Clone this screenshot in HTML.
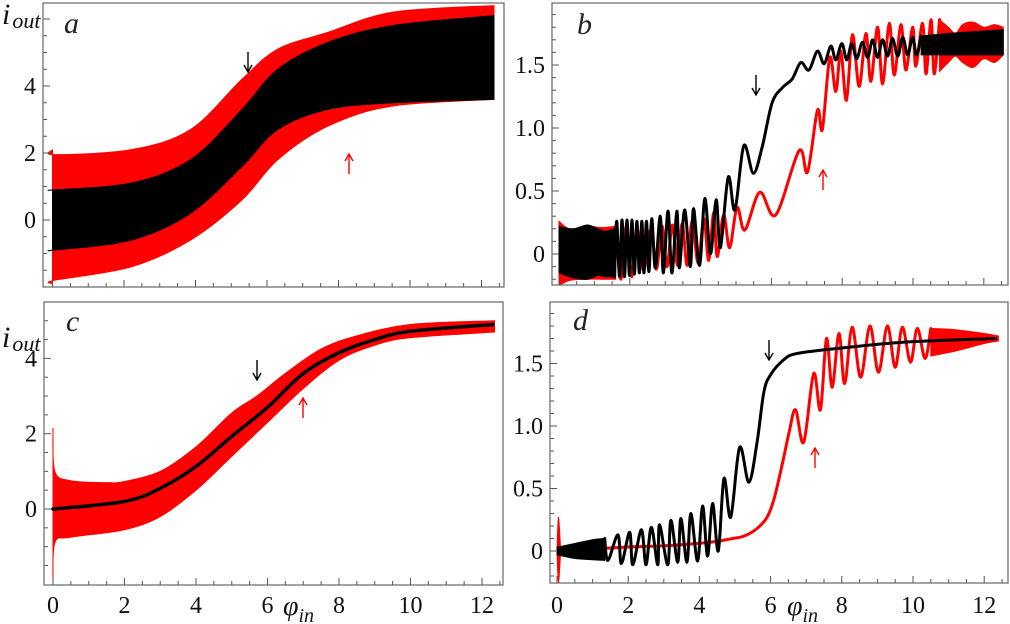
<!DOCTYPE html>
<html><head><meta charset="utf-8">
<style>
html,body{margin:0;padding:0;background:#fff;}
svg{display:block;}
svg text{font-family:"Liberation Serif","Times New Roman",Times,"DejaVu Serif",serif;}
</style></head>
<body>
<svg id="fig" width="1010" height="624" viewBox="0 0 1010 624"></svg>
<script>
// ---------- DATA ----------
const aX = [0, 0.05, 2.2, 3.86, 5.3, 6.3, 7.7, 9.5, 12.35];
const aRedUp = [2.1, 1.95, 2.1, 2.7, 4.2, 5.1, 5.6, 6.2, 6.4];
const aRedLo = [-1.9, -1.8, -1.4, -0.6, 0.6, 1.8, 2.8, 3.4, 3.6];
const aBlkUp = [0.9, 0.9, 1.1, 1.8, 3.3, 4.5, 5.3, 5.8, 6.1];
const aBlkLo = [-0.9, -0.9, -0.6, 0.2, 1.6, 2.7, 3.3, 3.5, 3.6];
const cRedX = [0, 0.05, 0.5, 1.5, 2, 3, 4, 5, 5.7, 6.5, 7.5, 8.5, 10, 12.35];
const cRedUp = [2.15, 1.0, 0.75, 0.7, 0.73, 1.0, 1.65, 2.55, 3.0, 3.6, 4.25, 4.6, 4.9, 5.0];
const cRedLoX = [0, 0.05, 0.5, 2, 3, 4, 5, 6, 7, 8, 9, 10, 12.35];
const cRedLo = [-2.0, -0.9, -0.75, -0.55, -0.2, 0.5, 1.4, 2.3, 3.2, 3.95, 4.35, 4.55, 4.7];
const cBlkX = [0, 2, 3, 4, 5, 6, 7, 8, 9, 10, 12.3];
const cBlk = [0, 0.2, 0.55, 1.13, 1.93, 2.7, 3.6, 4.15, 4.5, 4.72, 4.9];
const bBlkBandX = [0, 0.4, 0.8, 1.1, 1.3, 1.57];
const bBlkBandUp = [0.22, 0.2, 0.23, 0.2, 0.18, 0.2];
const bBlkBandLo = [-0.15, -0.19, -0.2, -0.17, -0.18, -0.18];
const bRedBandX = [0, 0.3, 0.8, 1.2, 1.6];
const bRedBandUp = [0.26, 0.2, 0.22, 0.21, 0.22];
const bRedBandLo = [-0.25, -0.21, -0.2, -0.2, -0.2];
const bBlkX = [1.57,1.63,1.71,1.78,1.85,1.92,1.99,2.06,2.13,2.20,2.27,2.34,2.40,2.47,2.54,2.62,2.72,2.86,2.95,3.08,3.19,3.33,3.40,3.55,3.71,3.80,3.97,4.12,4.28,4.44,4.56,4.78,4.97,5.22,5.49,5.74,6.02,6.31,6.59,6.83,7.06,7.30,7.49,7.68,7.82,7.99,8.13,8.27,8.41,8.57,8.72,8.86,9.0,9.14,9.28,9.42,9.57,9.71,9.85,9.99,10.1,10.23];
const bBlkY = [-0.18,0.26,-0.18,0.27,-0.18,0.27,-0.17,0.27,-0.16,0.26,-0.15,0.26,-0.15,0.26,-0.14,0.28,-0.11,0.30,-0.15,0.34,-0.15,0.34,-0.11,0.35,-0.10,0.36,-0.09,0.44,0.0,0.43,0.05,0.61,0.35,0.86,0.64,0.85,1.20,1.32,1.39,1.52,1.46,1.61,1.51,1.65,1.54,1.67,1.54,1.67,1.55,1.68,1.56,1.70,1.56,1.70,1.57,1.71,1.57,1.72,1.58,1.72,1.58,1.73];
const bBlkEndX = [10.23, 11, 12, 12.55];
const bBlkEndUp = [1.73, 1.75, 1.77, 1.78];
const bBlkEndLo = [1.58, 1.58, 1.58, 1.58];
const bRedX = [1.6,1.75,1.9,2.05,2.2,2.39,2.6,2.75,2.91,3.05,3.20,3.35,3.48,3.62,3.76,3.93,4.09,4.23,4.37,4.47,4.65,4.82,5.03,5.25,5.67,6.12,6.78,7.02,7.30,7.44,7.65,7.82,7.96,8.12,8.29,8.48,8.67,8.81,9.0,9.14,9.33,9.47,9.66,9.80,9.99,10.08,10.27,10.37,10.51,10.6,10.75];
const bRedY = [0.22,-0.2,0.22,-0.18,0.2,-0.13,0.2,-0.12,0.22,-0.10,0.23,-0.09,0.24,-0.09,0.26,-0.07,0.28,-0.05,0.33,-0.02,0.31,0.05,0.37,0.19,0.49,0.31,0.82,0.65,1.14,0.99,1.56,1.29,1.61,1.22,1.74,1.33,1.75,1.37,1.80,1.35,1.83,1.42,1.82,1.46,1.80,1.49,1.83,1.43,1.86,1.43,1.86];
const bRedEndX = [10.75, 11.0, 11.2, 11.4, 11.7, 12.0, 12.3, 12.55];
const bRedEndUp = [1.86, 1.80, 1.75, 1.82, 1.84, 1.80, 1.82, 1.80];
const bRedEndLo = [1.45, 1.52, 1.57, 1.52, 1.48, 1.55, 1.52, 1.58];
const dBlkBandX = [0, 0.5, 1.0, 1.34];
const dBlkBandUp = [0.03, 0.06, 0.09, 0.10];
const dBlkBandLo = [-0.03, -0.06, -0.07, -0.075];
const dBlkX = [1.34,1.43,1.71,1.81,2.04,2.13,2.37,2.50,2.65,2.83,2.88,3.11,3.20,3.39,3.48,3.65,3.76,3.95,4.09,4.23,4.37,4.53,4.69,4.88,5.13,5.39,5.62,5.81,6.0,6.37,6.74,7.86,9.72,12.32];
const dBlkY = [0.10,-0.075,0.13,-0.10,0.15,-0.11,0.17,-0.11,0.19,-0.11,0.21,-0.11,0.245,-0.09,0.26,-0.09,0.30,-0.08,0.36,-0.04,0.38,0.0,0.58,0.27,0.83,0.55,0.87,1.27,1.41,1.53,1.58,1.62,1.67,1.70];
const dSpikeX = [0, 0.04, 0.1];
const dSpikeUp = [0.0, 0.27, 0.02];
const dSpikeLo = [0.0, -0.25, -0.02];
const dRedX = [0.1,0.5,1.0,2.0,3.2,4.3,4.9,5.26,5.62,5.9,6.1,6.34,6.52,6.7,6.93,7.21,7.4,7.57,7.73,7.92,8.08,8.29,8.53,8.79,9.03,9.28,9.5,9.7,9.93,10.12,10.34,10.5];
const dRedY = [0.0,0.01,0.015,0.032,0.045,0.07,0.098,0.12,0.18,0.27,0.42,0.71,0.95,1.13,0.87,1.42,1.13,1.70,1.31,1.74,1.34,1.79,1.39,1.80,1.43,1.80,1.47,1.79,1.51,1.78,1.54,1.78];
const dRedEndX = [10.5, 11.2, 12.0, 12.4];
const dRedEndUp = [1.78, 1.77, 1.74, 1.72];
const dRedEndLo = [1.56, 1.60, 1.66, 1.68];

const xTicks = ['0','2','4','6','8','10','12'];
const yTicksAC = ['0','2','4'];
const yTicksBD = ['0','0.5','1.0','1.5'];

// ---------- RENDER ----------
const NS = 'http://www.w3.org/2000/svg';
const FF = '"Liberation Serif", "Times New Roman", Times, "DejaVu Serif", serif';
const svg = document.getElementById('fig');
function mk(tag, attrs, parent){ const e=document.createElementNS(NS,tag); for(const k in attrs) e.setAttribute(k,attrs[k]); if(tag==='text') e.setAttribute('font-family',FF); (parent||svg).appendChild(e); return e; }

function crPath(pts){
  if(pts.length<2) return '';
  let d='M'+pts[0][0].toFixed(2)+','+pts[0][1].toFixed(2);
  for(let i=0;i<pts.length-1;i++){
    const p0=pts[Math.max(0,i-1)], p1=pts[i], p2=pts[i+1], p3=pts[Math.min(pts.length-1,i+2)];
    const c1x=p1[0]+(p2[0]-p0[0])/6, c1y=p1[1]+(p2[1]-p0[1])/6;
    const c2x=p2[0]-(p3[0]-p1[0])/6, c2y=p2[1]-(p3[1]-p1[1])/6;
    d+=' C'+c1x.toFixed(2)+','+c1y.toFixed(2)+' '+c2x.toFixed(2)+','+c2y.toFixed(2)+' '+p2[0].toFixed(2)+','+p2[1].toFixed(2);
  }
  return d;
}
function makeAxes(p){ return { X: v=>p.x0+v*p.sx, Y: v=>p.y0-v*p.sy }; }
function band(g, ax, xs, up, lo, color, name){
  const top=xs.map((x,i)=>[ax.X(x),ax.Y(up[i])]);
  const bot=xs.map((x,i)=>[ax.X(x),ax.Y(lo[i])]).reverse();
  const d=crPath(top)+' L'+bot[0][0]+','+bot[0][1]+crPath(bot).replace(/^M[^ ]+/,'')+' Z';
  const e=mk('path',{d:d,fill:color,stroke:color,'stroke-width':1},g);
  
  
}
function line(g, ax, xs, ys, color, w, name){
  const pts=xs.map((x,i)=>[ax.X(x),ax.Y(ys[i])]);
  const e=mk('path',{d:crPath(pts),fill:'none',stroke:color,'stroke-width':w,'stroke-linejoin':'round','stroke-linecap':'round'},g);
  
  
}
function frame(p, id, yLabels, yStep, yMinor, ymin, ymax, showX){
  const g=mk('g',{});
  
  
  const ax=makeAxes(p);
  const clipId='clip'+id;
  const cp=mk('clipPath',{id:clipId},g);
  mk('rect',{x:p.l,y:p.t,width:p.r-p.l,height:p.b-p.t},cp);
  const plot=mk('g',{'clip-path':'url(#'+clipId+')'},g);
  
  
  const tg=mk('g',{stroke:'#555','stroke-width':1},g);
  
  
  for(let v=0; v<=12.5; v+=0.5){
    const x=ax.X(v); if(x>p.r-1) break;
    const major=Math.abs(v%2)<1e-6;
    mk('line',{x1:x,y1:p.b,x2:x,y2:p.b-(major?7:4)},tg);
  }
  for(let v=Math.ceil(ymin/yMinor)*yMinor; v<=ymax+1e-9; v+=yMinor){
    const y=ax.Y(v); if(y<p.t+1||y>p.b-1) continue;
    const major=Math.abs(Math.round(v/yStep)*yStep-v)<1e-6;
    mk('line',{x1:p.l,y1:y,x2:p.l+(major?7:4),y2:y},tg);
  }
  yLabels.forEach(s=>{
    const v=parseFloat(s);
    const t=mk('text',{x:p.l-7,y:ax.Y(v)+8,'text-anchor':'end','font-size':24,fill:'#111'},g);
    t.textContent=s;
    
    
  });
  if(showX){
    xTicks.forEach(s=>{
      const v=parseFloat(s);
      const t=mk('text',{x:ax.X(v),y:613,'text-anchor':'middle','font-size':24,fill:'#111'},g);
      t.textContent=s;
      
      
    });
  }
  return {g,plot,ax,p};
}
function finishFrame(F){
  const p=F.p;
  const r=mk('rect',{x:p.l,y:p.t,width:p.r-p.l,height:p.b-p.t,fill:'none',stroke:'#666','stroke-width':1.2},F.g);
  
  
}
function txt(x,y,s,size,color,name,italic){
  const t=mk('text',{x:x,y:y,'font-size':size,fill:color,'font-style':italic?'italic':'normal'});
  t.textContent=s;
  
  
  return t;
}
function arrow(x,y,down,color,name){
  const g=mk('g',{stroke:color,'stroke-width':1.4,fill:'none'});
  
  
  const len=20;
  mk('line',{x1:x,y1:y,x2:x,y2:y+len},g);
  if(down) mk('polyline',{points:(x-4)+','+(y+len-7)+' '+x+','+(y+len)+' '+(x+4)+','+(y+len-7)},g);
  else mk('polyline',{points:(x-4)+','+(y+7)+' '+x+','+y+' '+(x+4)+','+(y+7)},g);
}

const A=frame({l:43,t:3,r:504,b:287,x0:52.5,sx:35.75,y0:220,sy:33.5},'a',yTicksAC,2,0.5,-2,6.5,false);
band(A.plot,A.ax,aX,aRedUp,aRedLo,'#ff0000','series-red-a');
band(A.plot,A.ax,aX,aBlkUp,aBlkLo,'#000000','series-black-a');
finishFrame(A);
const C=frame({l:44,t:302,r:503,b:585,x0:53,sx:35.75,y0:509,sy:37.65},'c',yTicksAC,2,0.5,-2,5.5,true);
(function(){
  const up=cRedX.map((x,i)=>[C.ax.X(x),C.ax.Y(cRedUp[i])]);
  const lo=cRedLoX.map((x,i)=>[C.ax.X(x),C.ax.Y(cRedLo[i])]).reverse();
  const d=crPath(up)+' L'+lo[0][0]+','+lo[0][1]+crPath(lo).replace(/^M[^ ]+/,'')+' Z';
  const e=mk('path',{d:d,fill:'#ff0000',stroke:'#ff0000','stroke-width':1},C.plot);
  
  
})();
line(C.plot,C.ax,cBlkX,cBlk,'#000',3.5,'series-black-c');
finishFrame(C);
const B=frame({l:552,t:3,r:1008,b:285,x0:559,sx:35.4,y0:254,sy:126},'b',yTicksBD,0.5,0.1,-0.3,2.0,false);
band(B.plot,B.ax,bRedBandX,bRedBandUp,bRedBandLo,'#ff0000','series-red-b-dense-start');
line(B.plot,B.ax,bRedX,bRedY,'#ff0000',3,'series-red-b');
band(B.plot,B.ax,bRedEndX,bRedEndUp,bRedEndLo,'#ff0000','series-red-b-dense-end');
band(B.plot,B.ax,bBlkBandX,bBlkBandUp,bBlkBandLo,'#000000','series-black-b-dense-start');
line(B.plot,B.ax,bBlkX,bBlkY,'#000',3,'series-black-b');
band(B.plot,B.ax,bBlkEndX,bBlkEndUp,bBlkEndLo,'#000000','series-black-b-dense-end');
finishFrame(B);
const D=frame({l:550,t:302,r:1008,b:583,x0:557,sx:35.6,y0:551,sy:125},'d',yTicksBD,0.5,0.1,-0.3,2.0,true);
band(D.plot,D.ax,dSpikeX,dSpikeUp,dSpikeLo,'#ff0000','series-red-d-spike');
line(D.plot,D.ax,dRedX,dRedY,'#ff0000',3,'series-red-d');
band(D.plot,D.ax,dRedEndX,dRedEndUp,dRedEndLo,'#ff0000','series-red-d-dense-end');
band(D.plot,D.ax,dBlkBandX,dBlkBandUp,dBlkBandLo,'#000000','series-black-d-dense-start');
line(D.plot,D.ax,dBlkX,dBlkY,'#000',3,'series-black-d');
finishFrame(D);

txt(64,33,'a',30,'#222','panel-label-a',true);
txt(577,34,'b',30,'#222','panel-label-b',true);
txt(66,331,'c',30,'#222','panel-label-c',true);
txt(573,330,'d',30,'#222','panel-label-d',true);
[[2,24],[2,347]].forEach((p,i)=>{
  const t=mk('text',{x:p[0],y:p[1],'font-size':30,fill:'#111','font-style':'italic'});
  
  
  const s1=mk('tspan',{},t); s1.textContent='i';
  const s2=mk('tspan',{'font-size':22,dy:4,dx:2},t); s2.textContent='out';
});
[[283,615],[787,615]].forEach(p=>{
  const t=mk('text',{x:p[0],y:p[1],'font-size':28,fill:'#111','font-style':'italic'});
  
  
  const s1=mk('tspan',{},t); s1.textContent='φ';
  const s2=mk('tspan',{'font-size':20,dy:7},t); s2.textContent='in';
});
arrow(248,52,true,'#000','black-arrow-a');
arrow(349,154,false,'#ff0000','red-arrow-a');
arrow(756,75,true,'#000','black-arrow-b');
arrow(823,170,false,'#ff0000','red-arrow-b');
arrow(257,360,true,'#000','black-arrow-c');
arrow(303,398,false,'#ff0000','red-arrow-c');
arrow(769,340,true,'#000','black-arrow-d');
arrow(815,448,false,'#ff0000','red-arrow-d');
</script>
</body></html>
